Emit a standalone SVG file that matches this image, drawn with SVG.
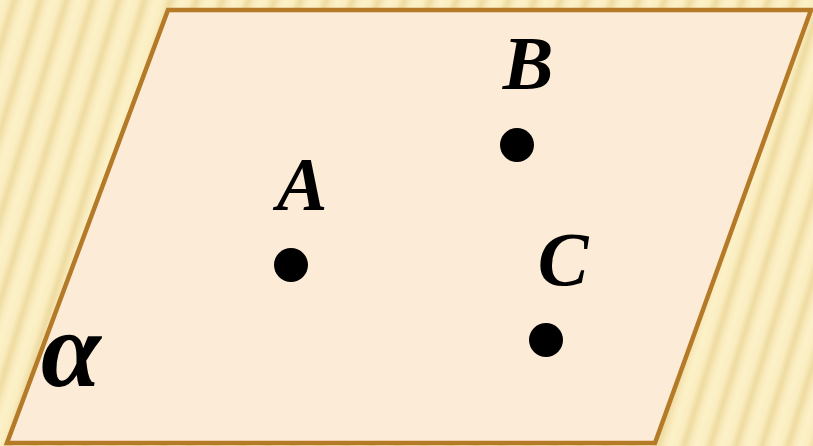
<svg xmlns="http://www.w3.org/2000/svg" width="813" height="446" viewBox="0 0 813 446">
<defs>
<linearGradient id="stripeGrad" x1="0" y1="0" x2="1" y2="0">
<stop offset="0" stop-color="#FCF1C8"/>
<stop offset="0.3" stop-color="#FAEDC0"/>
<stop offset="0.55" stop-color="#EEDBA0"/>
<stop offset="0.8" stop-color="#F9EBBD"/>
<stop offset="1" stop-color="#FCF1C8"/>
</linearGradient>
<pattern id="stripes" width="26" height="446" patternUnits="userSpaceOnUse" patternTransform="skewX(-17)">
<rect width="26" height="446" fill="url(#stripeGrad)"/>
</pattern>
<style>
.plane{fill:#FCEBD6;stroke:#B47A28;stroke-width:4.5;stroke-linejoin:miter}
.pt{fill:#000}
.lbl{font-family:"Liberation Serif","Times New Roman",serif;font-style:italic;font-weight:bold;fill:#000}
</style>
</defs>
<rect width="813" height="446" fill="url(#stripes)"/>
<g id="plane">
<polygon class="plane" points="168,10 811,10 655,443 7,443"/>
</g>
<g id="alpha">
<text class="lbl" x="41" y="386" font-size="108">α</text>
</g>
<g id="A">
<circle class="pt" cx="291" cy="265" r="17"/>
<text class="lbl" x="302" y="210" font-size="76" text-anchor="middle">A</text>
</g>
<g id="B">
<circle class="pt" cx="517" cy="145" r="17"/>
<text class="lbl" x="528" y="89" font-size="76" text-anchor="middle">B</text>
</g>
<g id="C">
<circle class="pt" cx="546" cy="340" r="17"/>
<text class="lbl" x="563" y="285" font-size="76" text-anchor="middle">C</text>
</g>
<g id="connectors"></g>
</svg>
